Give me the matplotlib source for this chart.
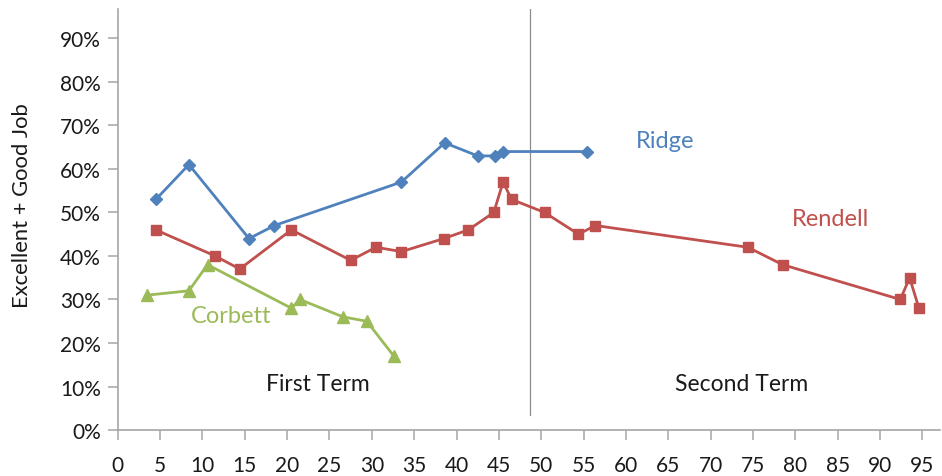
import matplotlib
matplotlib.use("Agg")
import matplotlib.pyplot as plt
from matplotlib.ticker import PercentFormatter

plt.rcParams['font.family'] = ['Lato', 'DejaVu Sans']

# Data (x = time index, y = share rating Excellent + Good Job)
ridge_x = [4.5, 8.4, 15.5, 18.5, 33.5, 38.6, 42.5, 44.5, 45.5, 55.4]
ridge_y = [0.53, 0.61, 0.44, 0.47, 0.57, 0.66, 0.63, 0.63, 0.64, 0.64]

rendell_x = [4.5, 11.5, 14.4, 20.5, 27.5, 30.5, 33.5, 38.5, 41.4, 44.4, 45.5, 46.5,
             50.4, 54.4, 56.4, 74.4, 78.5, 92.4, 93.5, 94.6]
rendell_y = [0.46, 0.40, 0.37, 0.46, 0.39, 0.42, 0.41, 0.44, 0.46, 0.50, 0.57, 0.53,
             0.50, 0.45, 0.47, 0.42, 0.38, 0.30, 0.35, 0.28]

corbett_x = [3.5, 8.4, 10.6, 20.5, 21.5, 26.6, 29.4, 32.6]
corbett_y = [0.31, 0.32, 0.38, 0.28, 0.30, 0.26, 0.25, 0.17]

term_split_x = 48.7
x_ticks = list(range(0, 100, 5))
y_ticks = [i / 10 for i in range(0, 10)]

BLUE = '#4F81BD'
RED = '#C0504D'
GREEN = '#9BBB59'
AXIS = '#A6A6A6'

fig = plt.figure(figsize=(9.42, 4.77), dpi=100)
ax = fig.add_axes([0.125, 0.0964, 0.873, 0.883])

ax.plot(ridge_x, ridge_y, color=BLUE, lw=2.0, marker='D', ms=6.5, zorder=3)
ax.plot(rendell_x, rendell_y, color=RED, lw=2.0, marker='s', ms=7.5, zorder=3)
ax.plot(corbett_x, corbett_y, color=GREEN, lw=2.0, marker='^', ms=8, zorder=3)

ax.plot([term_split_x, term_split_x], [0.034, 0.968], color='#8C8C8C', lw=0.9, zorder=2)

ax.set_xlim(0, 97.1)
ax.set_ylim(0, 0.968)
ax.set_xticks(x_ticks)
ax.set_yticks(y_ticks)
ax.yaxis.set_major_formatter(PercentFormatter(1.0, decimals=0))

for s in ['top', 'right']:
    ax.spines[s].set_visible(False)
for s in ['left', 'bottom']:
    ax.spines[s].set_color(AXIS)
    ax.spines[s].set_linewidth(1.2)
ax.tick_params(axis='both', direction='out', length=7, width=1.1, color=AXIS,
               labelsize=15, labelcolor='#1a1a1a')
ax.tick_params(axis='x', pad=11)
ax.tick_params(axis='y', pad=5)

ax.set_ylabel('Excellent + Good Job', fontsize=15.8, color='#1a1a1a')
ax.yaxis.set_label_coords(-0.104, 0.534)

ax.text(64.6, 0.666, 'Ridge', color=BLUE, fontsize=17, ha='center', va='center')
ax.text(84.2, 0.486, 'Rendell', color=RED, fontsize=17, ha='center', va='center')
ax.text(13.4, 0.263, 'Corbett', color=GREEN, fontsize=17, ha='center', va='center')
ax.text(23.6, 0.106, 'First Term', color='#1a1a1a', fontsize=16.5, ha='center', va='center')
ax.text(73.7, 0.106, 'Second Term', color='#1a1a1a', fontsize=16.5, ha='center', va='center')

fig.savefig('out.png', dpi=100)
